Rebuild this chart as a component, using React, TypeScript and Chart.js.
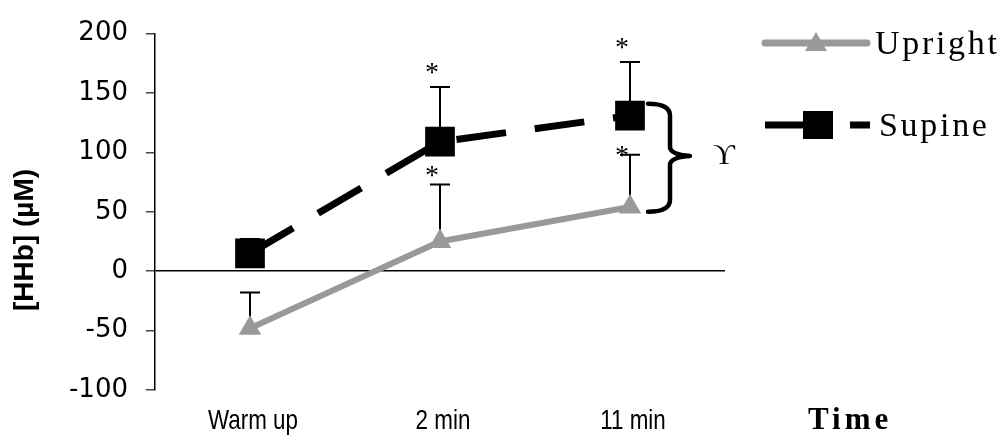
import React, { useEffect, useRef } from "react";
import { Chart, registerables } from "chart.js";

Chart.register(...registerables);

const categories = ["Warm up", "2 min", "11 min"];
const uprightValues = [-48, 25, 54];
const supineValues = [15, 109, 131];
const uprightSD = [30, 48, 44];
const supineSD = [12, 46, 45];
// significance markers: [category index, value at which the "*" sits]
const asteriskMarks: [number, number][] = [
  [1, 172],
  [1, 85],
  [2, 193],
  [2, 102],
];
const braceTopValue = 141;
const braceMidValue = 97;
const braceBottomValue = 50;
const yTickMin = -100;
const yTickMax = 200;
const yTickStep = 50;
const yTitle = "[HHb] (µM)";
const xTitle = "Time";

const SANS = '"Liberation Sans", Arial, sans-serif';
const WIDE = '"DejaVu Sans", "Liberation Sans", sans-serif';
const SERIF = '"Liberation Serif", "Times New Roman", serif';

const GREY = "#999999";

const annotationPlugin = {
  id: "annotations",
  beforeDatasetsDraw(chart: any) {
    const ctx = chart.ctx;
    const yScale = chart.scales.y;
    const sets = [uprightSD, supineSD];
    ctx.save();
    ctx.strokeStyle = "#000";
    ctx.lineWidth = 2;
    sets.forEach((sds, di) => {
      const meta = chart.getDatasetMeta(di);
      const vals = chart.data.datasets[di].data as number[];
      meta.data.forEach((el: any, i: number) => {
        const top = yScale.getPixelForValue(vals[i] + sds[i]);
        ctx.beginPath();
        ctx.moveTo(el.x, el.y);
        ctx.lineTo(el.x, top);
        ctx.moveTo(el.x - 10, top);
        ctx.lineTo(el.x + 10, top);
        ctx.stroke();
      });
    });
    ctx.restore();
  },
  afterDraw(chart: any) {
    const ctx = chart.ctx;
    const xScale = chart.scales.x;
    const yScale = chart.scales.y;
    const area = chart.chartArea;
    ctx.save();

    // x category labels (condensed sans)
    ctx.fillStyle = "#000";
    ctx.font = `28px ${SANS}`;
    ctx.textAlign = "center";
    ctx.textBaseline = "middle";
    categories.forEach((lab, i) => {
      const x = xScale.getPixelForValue(i) + 3;
      ctx.save();
      ctx.translate(x, area.bottom + 31);
      ctx.scale(0.8, 1);
      ctx.fillText(lab, 0, 0);
      ctx.restore();
    });

    // y axis title
    ctx.save();
    ctx.translate(25, 240);
    ctx.rotate(-Math.PI / 2);
    ctx.font = `bold 28px ${SANS}`;
    ctx.textAlign = "center";
    ctx.textBaseline = "middle";
    ctx.fillText(yTitle, 0, 0);
    ctx.restore();

    // asterisks
    ctx.fillStyle = "#000";
    ctx.font = `28px ${SERIF}`;
    ctx.textAlign = "center";
    ctx.textBaseline = "alphabetic";
    asteriskMarks.forEach(([ci, v]) => {
      const x = xScale.getPixelForValue(ci) - 8;
      const y = yScale.getPixelForValue(v);
      ctx.fillText("*", x, y + 14);
    });

    // brace
    const xc = xScale.getPixelForValue(2);
    const x0 = xc + 18;
    const xs = x0 + 22;
    const xt = x0 + 42;
    const top = yScale.getPixelForValue(braceTopValue);
    const mid = yScale.getPixelForValue(braceMidValue);
    const bot = yScale.getPixelForValue(braceBottomValue);
    ctx.strokeStyle = "#000";
    ctx.lineWidth = 4.5;
    ctx.lineJoin = "round";
    ctx.lineCap = "round";
    ctx.beginPath();
    ctx.moveTo(x0, top);
    ctx.quadraticCurveTo(xs, top, xs, top + 12);
    ctx.lineTo(xs, mid - 8);
    ctx.quadraticCurveTo(xs + 2, mid - 1, xt, mid);
    ctx.quadraticCurveTo(xs + 2, mid + 1, xs, mid + 8);
    ctx.lineTo(xs, bot - 12);
    ctx.quadraticCurveTo(xs, bot, x0, bot);
    ctx.stroke();

    ctx.font = `30px ${SERIF}`;
    ctx.textAlign = "center";
    ctx.textBaseline = "middle";
    ctx.fillText("\u03D2", xt + 34, mid);

    // legend
    const lx = area.right + 37;
    const uy = 43;
    const sy = 125;
    ctx.lineCap = "round";
    ctx.strokeStyle = GREY;
    ctx.lineWidth = 7;
    ctx.beginPath();
    ctx.moveTo(lx + 3, uy);
    ctx.lineTo(lx + 105, uy);
    ctx.stroke();
    ctx.fillStyle = GREY;
    const tc = lx + 54;
    ctx.beginPath();
    ctx.moveTo(tc, uy - 11);
    ctx.lineTo(tc + 11, uy + 8);
    ctx.lineTo(tc - 11, uy + 8);
    ctx.closePath();
    ctx.fill();

    ctx.lineCap = "butt";
    ctx.strokeStyle = "#000";
    ctx.beginPath();
    ctx.moveTo(lx + 3, sy);
    ctx.lineTo(lx + 50, sy);
    ctx.moveTo(lx + 88, sy);
    ctx.lineTo(lx + 108, sy);
    ctx.stroke();
    ctx.fillStyle = "#000";
    ctx.fillRect(lx + 41, sy - 14, 30, 28);

    ctx.fillStyle = "#000";
    ctx.textAlign = "left";
    ctx.textBaseline = "middle";
    ctx.font = `34px ${SERIF}`;
    (ctx as any).letterSpacing = "2.7px";
    ctx.fillText("Upright", lx + 113, uy + 2);
    ctx.fillText("Supine", lx + 117, sy + 2);

    // x axis title
    ctx.font = `bold 31px ${SERIF}`;
    (ctx as any).letterSpacing = "4px";
    ctx.textBaseline = "middle";
    ctx.fillText(xTitle, area.right + 83, 421);
    (ctx as any).letterSpacing = "0px";
    ctx.restore();
  },
};

export default function App() {
  const ref = useRef<HTMLCanvasElement | null>(null);
  useEffect(() => {
    if (!ref.current) return;
    const chart = new Chart(ref.current, {
      type: "line",
      data: {
        labels: categories,
        datasets: [
          {
            label: "Upright",
            data: uprightValues,
            borderColor: GREY,
            backgroundColor: GREY,
            borderWidth: 6,
            pointStyle: "triangle",
            pointRadius: 13,
            pointBackgroundColor: GREY,
            pointBorderWidth: 0,
            tension: 0,
          },
          {
            label: "Supine",
            data: supineValues,
            borderColor: "#000",
            backgroundColor: "#000",
            borderWidth: 7,
            borderDash: [50, 29],
            pointStyle: "rect",
            pointRadius: 21,
            pointBackgroundColor: "#000",
            pointBorderWidth: 0,
            tension: 0,
          },
        ],
      },
      options: {
        responsive: false,
        animation: false,
        events: [],
        layout: { padding: { top: 27, right: 280, left: 0, bottom: 0 } },
        plugins: {
          legend: { display: false },
          tooltip: { enabled: false },
        },
        scales: {
          x: {
            type: "category",
            offset: true,
            grid: { display: false, drawTicks: false },
            border: { display: false },
            ticks: { display: false },
            afterFit: (s: any) => {
              s.height = 56;
            },
          },
          y: {
            min: yTickMin,
            max: yTickMax,
            ticks: {
              stepSize: yTickStep,
              color: "#000",
              padding: 18,
              font: { family: WIDE, size: 26 },
            },
            grid: {
              color: (c: any) => (c.tick && c.tick.value === 0 ? "#000" : "rgba(0,0,0,0)"),
              lineWidth: 1.5,
              tickColor: "#444",
              tickLength: 9,
              drawOnChartArea: true,
            },
            border: { display: true, color: "#000", width: 1.5 },
            afterFit: (s: any) => {
              s.width = 155;
            },
          },
        },
      },
      plugins: [annotationPlugin],
    });
    return () => chart.destroy();
  }, []);
  return (
    <div style={{ position: "fixed", left: 0, top: 0, width: 1005, height: 446, background: "#fff" }}>
      <canvas ref={ref} width={1005} height={446} />
    </div>
  );
}
